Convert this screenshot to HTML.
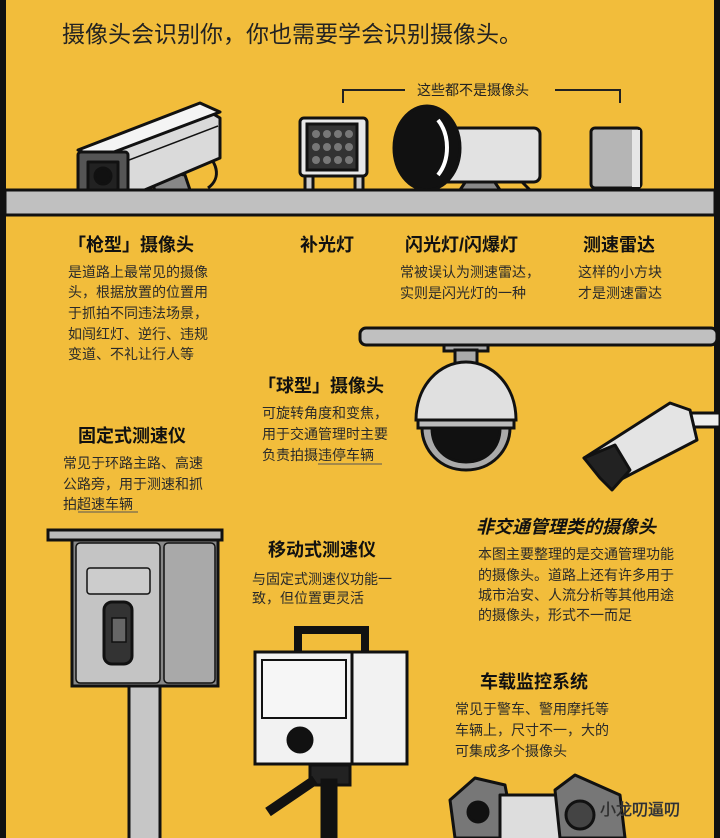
<!DOCTYPE html>
<html><head><meta charset="utf-8"><style>
html,body{margin:0;padding:0;background:#F2BD3B}
svg{display:block}
text{font-family:"Liberation Sans","Noto Sans CJK SC",sans-serif;fill:#222}
.t{font-weight:bold;font-size:18px;fill:#111}
.b{font-size:14px;fill:#2a2a2a}
</style></head><body>
<svg width="720" height="838" viewBox="0 0 720 838" xmlns="http://www.w3.org/2000/svg">
<rect width="720" height="838" fill="#F2BD3B"/>
<rect x="0" y="0" width="6" height="838" fill="#111"/>
<rect x="714" y="0" width="6" height="838" fill="#111"/>
<text x="62" y="42" font-size="23" fill="#2a2a2a">摄像头会识别你，你也需要学会识别摄像头。</text>

<!-- bracket -->
<path d="M343 103 V90 H405 M555 90 H620 V103" stroke="#222" stroke-width="2" fill="none"/>
<text x="417" y="95" font-size="14" fill="#2a2a2a">这些都不是摄像头</text>

<!-- gun camera -->
<g stroke="#111" stroke-width="3" stroke-linejoin="round">
<path d="M200 150 C218 160 222 178 208 188" fill="none"/>
<path d="M150 170 L185 175 L190 190 L155 192 Z" fill="#888"/>
<path d="M98 158 L210 112 L220 118 L220 158 L128 197 L98 197 Z" fill="#dadada"/>
<path d="M78 150 L200 103 L220 112 L98 158 Z" fill="#f4f4f4"/>
<path d="M103 170 L218 126" stroke-width="1.5" fill="none"/>
<rect x="78" y="152" width="50" height="46" fill="#555" rx="3"/>
<rect x="88" y="162" width="30" height="28" fill="#222"/>
<circle cx="103" cy="176" r="8" fill="#111"/>
</g>
<!-- fill light -->
<g stroke="#111" stroke-width="3">
<rect x="305" y="160" width="8" height="30" fill="#ccc"/>
<rect x="355" y="160" width="8" height="30" fill="#ccc"/>
<rect x="300" y="118" width="67" height="58" rx="4" fill="#e8e8e8"/>
<rect x="307" y="124" width="50" height="46" fill="#333"/>
</g>
<g fill="#777">
<circle cx="316" cy="134" r="4"/><circle cx="327" cy="134" r="4"/><circle cx="338" cy="134" r="4"/><circle cx="349" cy="134" r="4"/>
<circle cx="316" cy="147" r="4"/><circle cx="327" cy="147" r="4"/><circle cx="338" cy="147" r="4"/><circle cx="349" cy="147" r="4"/>
<circle cx="316" cy="160" r="4"/><circle cx="327" cy="160" r="4"/><circle cx="338" cy="160" r="4"/><circle cx="349" cy="160" r="4"/>
</g>
<!-- flash -->
<g stroke="#111" stroke-width="3">
<path d="M460 190 L470 175 L490 175 L500 190" fill="#888"/>
<path d="M520 180 C525 185 528 188 530 190" fill="none"/>
<rect x="440" y="128" width="100" height="54" rx="6" fill="#e2e2e2"/>
<ellipse cx="427" cy="148" rx="33" ry="42" fill="#111"/>
<path d="M438 120 C450 135 450 160 438 175" stroke="#fff" stroke-width="4" fill="none"/>
</g>
<!-- radar -->
<rect x="591" y="128" width="50" height="60" rx="4" fill="#b5b5b5" stroke="#111" stroke-width="3"/>
<rect x="632" y="130" width="8" height="57" fill="#e6e6e6"/>

<!-- shelf -->
<rect x="5" y="190" width="710" height="25" fill="#c0c0c0" stroke="#111" stroke-width="3"/>

<text class="t" x="68" y="251">「枪型」摄像头</text>
<text class="b" x="68" y="277">是道路上最常见的摄像</text>
<text class="b" x="68" y="297">头，根据放置的位置用</text>
<text class="b" x="68" y="318">于抓拍不同违法场景，</text>
<text class="b" x="68" y="339">如闯红灯、逆行、违规</text>
<text class="b" x="68" y="359">变道、不礼让行人等</text>
<text class="t" x="300" y="251">补光灯</text>
<text class="t" x="405" y="251">闪光灯/闪爆灯</text>
<text class="b" x="400" y="277">常被误认为测速雷达，</text>
<text class="b" x="400" y="298">实则是闪光灯的一种</text>
<text class="t" x="583" y="251">测速雷达</text>
<text class="b" x="578" y="277">这样的小方块</text>
<text class="b" x="578" y="298">才是测速雷达</text>

<!-- second bar -->
<rect x="360" y="328" width="357" height="17" rx="6" fill="#c0c0c0" stroke="#111" stroke-width="3"/>
<!-- dome -->
<g stroke="#111" stroke-width="3">
<rect x="444" y="345" width="44" height="6" fill="#aaa"/>
<rect x="455" y="350" width="22" height="14" fill="#aaa"/>
<path d="M416 420 C416 385 440 362 466 362 C492 362 516 385 516 420 Z" fill="#e0e0e0"/>
<rect x="418" y="420" width="96" height="8" fill="#bbb"/>
<path d="M422 428 C422 450 440 470 466 470 C492 470 510 450 510 428 Z" fill="#aaa"/>
<path d="M432 428 C432 448 446 462 466 462 C486 462 500 448 500 428 Z" fill="#111"/>
</g>
<!-- bullet camera right -->
<g stroke="#111" stroke-width="3" stroke-linejoin="round">
<rect x="690" y="413" width="30" height="14" fill="#eee"/>
<path d="M584 458 L670 403 L690 410 L697 440 L610 485 Z" fill="#e4e4e4"/>
<path d="M584 458 L600 478 L612 490 L630 470 L615 445 Z" fill="#222"/>
</g>

<text class="t" x="258" y="392">「球型」摄像头</text>
<text class="b" x="262" y="418">可旋转角度和变焦，</text>
<text class="b" x="262" y="439">用于交通管理时主要</text>
<text class="b" x="262" y="460">负责拍摄违停车辆</text>
<line x1="318" y1="464" x2="382" y2="464" stroke="#555" stroke-width="1"/>

<text class="t" x="78" y="442">固定式测速仪</text>
<text class="b" x="63" y="468">常见于环路主路、高速</text>
<text class="b" x="63" y="489">公路旁，用于测速和抓</text>
<text class="b" x="63" y="509">拍超速车辆</text>
<line x1="78" y1="512" x2="138" y2="512" stroke="#555" stroke-width="1"/>

<!-- fixed speed box -->
<g stroke="#111" stroke-width="3">
<rect x="129" y="686" width="31" height="160" fill="#c6c6c6"/>
<rect x="72" y="540" width="146" height="146" fill="#888"/>
<rect x="76" y="543" width="84" height="140" rx="4" fill="#c4c4c4" stroke-width="1.5"/>
<rect x="164" y="543" width="51" height="140" rx="4" fill="#a9a9a9" stroke-width="1.5"/>
<rect x="48" y="530" width="174" height="10" fill="#bbb"/>
<rect x="87" y="568" width="63" height="26" rx="3" fill="#ccc" stroke-width="1.5"/>
<rect x="104" y="602" width="28" height="62" rx="8" fill="#333"/>
<rect x="112" y="618" width="14" height="24" fill="#666" stroke-width="1.5"/>
</g>

<text class="t" x="476" y="533" font-style="italic">非交通管理类的摄像头</text>
<text class="b" x="478" y="559">本图主要整理的是交通管理功能</text>
<text class="b" x="478" y="580">的摄像头。道路上还有许多用于</text>
<text class="b" x="478" y="600">城市治安、人流分析等其他用途</text>
<text class="b" x="478" y="620">的摄像头，形式不一而足</text>

<text class="t" x="268" y="556">移动式测速仪</text>
<text class="b" x="252" y="584">与固定式测速仪功能一</text>
<text class="b" x="252" y="603">致，但位置更灵活</text>

<!-- mobile speed -->
<g stroke="#111" stroke-width="3">
<path d="M298 652 V630 H365 V652" fill="none" stroke-width="8"/>
<rect x="310" y="765" width="40" height="20" fill="#222"/>
<path d="M315 780 L268 812" stroke-width="10"/>
<rect x="322" y="780" width="14" height="58" fill="#111"/>
<rect x="255" y="652" width="152" height="112" fill="#f2f2f2"/>
<line x1="352" y1="652" x2="352" y2="764"/>
<rect x="262" y="660" width="84" height="58" fill="#f6f6f6" stroke-width="2"/>
<circle cx="300" cy="740" r="12" fill="#111"/>
</g>

<text class="t" x="480" y="688">车载监控系统</text>
<text class="b" x="455" y="714">常见于警车、警用摩托等</text>
<text class="b" x="455" y="735">车辆上，尺寸不一，大的</text>
<text class="b" x="455" y="756">可集成多个摄像头</text>

<!-- vehicle cams -->
<g stroke="#111" stroke-width="3" stroke-linejoin="round">
<path d="M450 800 L475 778 L505 785 L515 838 L455 838 Z" fill="#777"/>
<circle cx="478" cy="812" r="10" fill="#111"/>
<rect x="500" y="795" width="70" height="45" fill="#ddd"/>
<path d="M555 790 L575 775 L620 795 L625 838 L560 838 Z" fill="#777"/>
<circle cx="580" cy="815" r="14" fill="#444"/>
</g>
<text x="600" y="815" font-size="16" fill="#fff" stroke="#444" stroke-width="0.6">小龙叨逼叨</text>
</svg>
</body></html>
